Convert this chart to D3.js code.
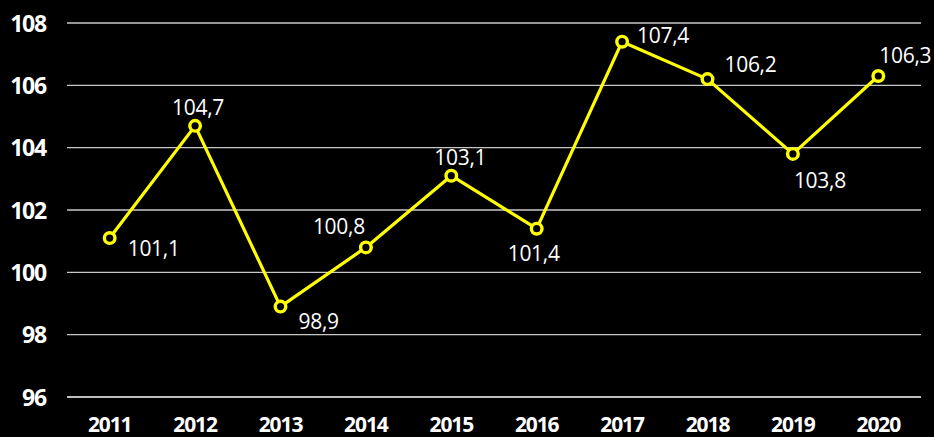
<!DOCTYPE html>
<html><head><meta charset="utf-8">
<script src="https://cdn.jsdelivr.net/npm/d3@7"></script>
<style>
html,body{margin:0;padding:0;background:#000;}
svg{display:block;}
</style></head>
<body>
<script>
const years = ["2011","2012","2013","2014","2015","2016","2017","2018","2019","2020"];
const values = [101.1,104.7,98.9,100.8,103.1,101.4,107.4,106.2,103.8,106.3];
const yTicks = [96,98,100,102,104,106,108];

// label offsets per point (layout only, pixels relative to the marker)
const labelOffsets = [[18,10],[-23,-18.5],[18,15],[-53,-21],[-17,-18.5],[-29,24.5],[15,-6.5],[17,-14.5],[1,27],[1,-21]];

const W = 934, H = 437;
const svg = d3.select("body").append("svg").attr("width", W).attr("height", H).style("background","#000");

const x = d3.scaleBand().domain(years).range([67, 921]);
const y = d3.scaleLinear().domain([96,108]).range([397, 23]);

// grid
svg.append("g").selectAll("line").data(yTicks).join("line")
  .attr("x1", 67).attr("x2", 921)
  .attr("y1", d => y(d)).attr("y2", d => y(d))
  .attr("stroke", d => d === 96 ? "#ffffff" : "#c8c8c8").attr("stroke-width", 1.3);

// y axis labels
const yAxis = d3.axisLeft(y).tickValues(yTicks).tickSize(0).tickPadding(0);
const gy = svg.append("g").attr("transform","translate(46,0)").call(yAxis);
gy.select(".domain").remove();
gy.selectAll("text").attr("fill","#fff")
  .style("font-family","'Open Sans', sans-serif").style("font-weight","700")
  .style("font-size","23px").style("letter-spacing","-1.2px")
  .attr("dy","0.36em");

// x axis labels
const xAxis = d3.axisBottom(x).tickSize(0).tickPadding(0);
const gx = svg.append("g").attr("transform","translate(0,412)").call(xAxis);
gx.select(".domain").remove();
gx.selectAll("text").attr("fill","#fff")
  .style("font-family","'Open Sans', sans-serif").style("font-weight","700")
  .style("font-size","21px").style("letter-spacing","-1.1px")
  .attr("dy","0.36em").attr("y",12);

const cx = d => x(d) + x.bandwidth()/2;
const data = years.map((yr,i) => ({yr, v: values[i], o: labelOffsets[i]}));

svg.append("path").datum(data)
  .attr("d", d3.line().x(d => cx(d.yr)).y(d => y(d.v)))
  .attr("fill","none").attr("stroke","#ffff00").attr("stroke-width",3.2).attr("stroke-linejoin","round");

svg.append("g").selectAll("circle").data(data).join("circle")
  .attr("cx", d => cx(d.yr)).attr("cy", d => y(d.v)).attr("r", 5.3)
  .attr("fill","#000").attr("stroke","#ffff00").attr("stroke-width",3.4);

svg.append("g").selectAll("text").data(data).join("text")
  .attr("x", d => cx(d.yr) + d.o[0])
  .attr("y", d => y(d.v) + d.o[1])
  .attr("text-anchor", "start")
  .attr("dy","0.36em")
  .attr("fill","#fff")
  .style("font-family","'Open Sans', sans-serif").style("font-size","21px")
  .style("letter-spacing","-0.3px")
  .text(d => d3.format(".1f")(d.v).replace(".", ","));
</script>
</body></html>
